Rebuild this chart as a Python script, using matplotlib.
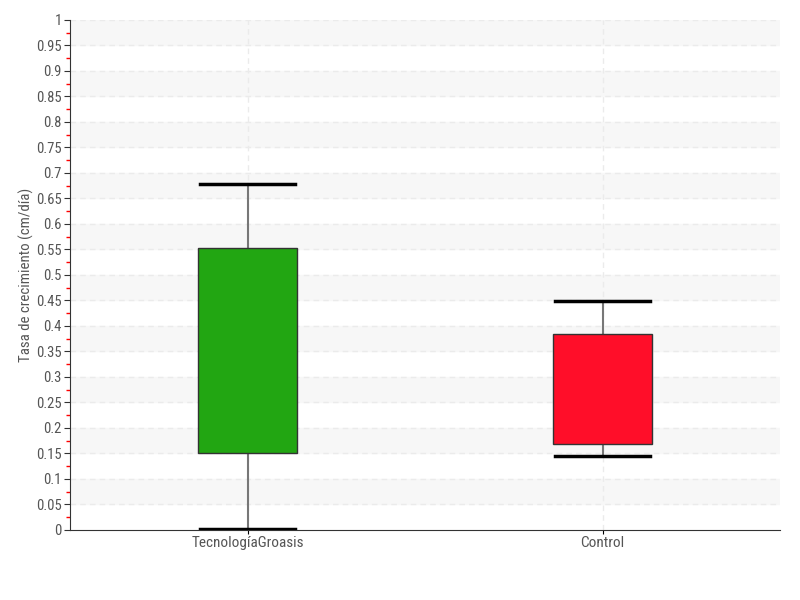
import matplotlib.pyplot as plt
import numpy as np

categories = ["TecnologíaGroasis", "Control"]
whisker_low = [0.002, 0.145]
q1 = [0.151, 0.169]
medians = [0.363, 0.255]
q3 = [0.553, 0.384]
whisker_high = [0.678, 0.449]
box_colors = ["#22a612", "#ff0e29"]

plt.rcParams["font.family"] = ["Roboto Condensed", "Roboto", "DejaVu Sans"]

fig = plt.figure(figsize=(8, 6), dpi=100)
ax = fig.add_axes([0.0875, 0.1167, 0.8875, 0.85])

positions = np.arange(1, len(categories) + 1)
ax.set_xlim(0.5, len(categories) + 0.5)
ax.set_ylim(0, 1)

# alternating bands + dashed grid
yt = np.round(np.arange(0, 1.0001, 0.05), 2)
for i in range(1, len(yt), 2):
    ax.axhspan(yt[i], yt[i + 1] if i + 1 < len(yt) else 1, color="#f7f7f7", zorder=0)
for y in yt[1:]:
    ax.axhline(y, color="#ebebeb", lw=1, ls=(0, (4, 3)), zorder=0.5)
for x in positions:
    ax.axvline(x, color="#ebebeb", lw=1, ls=(0, (4, 3)), zorder=0.5)

stats = [
    dict(whislo=whisker_low[i], q1=q1[i], med=medians[i], q3=q3[i],
         whishi=whisker_high[i], fliers=[], label=categories[i])
    for i in range(len(categories))
]
bp = ax.bxp(stats, positions=positions, widths=0.28, patch_artist=True,
            showfliers=False,
            boxprops=dict(edgecolor="#333333", lw=1),
            medianprops=dict(color="#333333", lw=1),
            whiskerprops=dict(color="#777777", lw=1.5),
            capprops=dict(color="black", lw=2.5),
            capwidths=0.27)
for patch, c in zip(bp["boxes"], box_colors):
    patch.set_facecolor(c)
    patch.set_zorder(3)

ax.set_yticks(yt)
ax.set_yticklabels([("%g" % v) for v in yt])
ax.set_yticks(np.arange(0.025, 1, 0.05), minor=True)
ax.tick_params(axis="y", which="minor", length=3, color="red", width=1)
ax.tick_params(axis="y", which="major", length=4, color="#333333", labelsize=10.5,
               labelcolor="#555555", pad=2)
ax.tick_params(axis="x", length=3, labelsize=11, labelcolor="#555555", pad=1)
ax.set_xticks(positions)
ax.set_xticklabels(categories)

for s in ["top", "right"]:
    ax.spines[s].set_visible(False)
ax.spines["left"].set_color("#333333")
ax.spines["bottom"].set_color("#333333")

ax.set_ylabel("Tasa de crecimiento (cm/día)", color="#555555", fontsize=10.7)
ax.yaxis.set_label_coords(-0.05, 0.5)

fig.savefig("out.png", dpi=100)
